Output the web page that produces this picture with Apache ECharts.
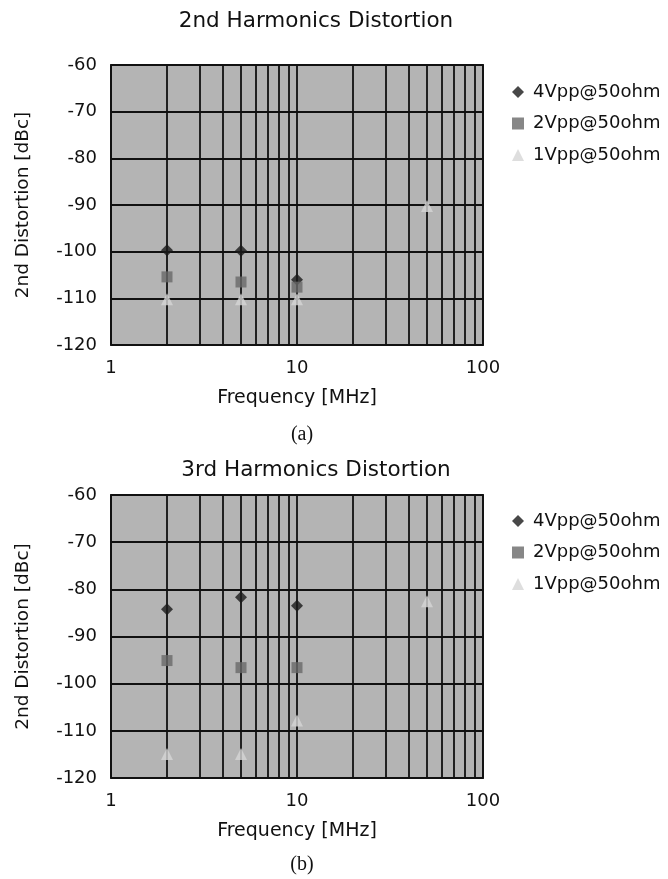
<!DOCTYPE html>
<html>
<head>
<meta charset="utf-8">
<script src="https://cdn.jsdelivr.net/npm/echarts@6/dist/echarts.min.js"></script>
<style>
  html, body { margin: 0; padding: 0; background: #fff; }
  #chart-container { width: 668px; height: 879px; }
</style>
</head>
<body>
<div id="chart-container"></div>
<script>
// Datos
const seriesNames = ['4Vpp@50ohm', '2Vpp@50ohm', '1Vpp@50ohm'];
const freqs = [2, 5, 10, 50];
// 2nd harmonics (a)
const h2_4V = [-99.7, -99.8, -106, null];
const h2_2V = [-105.4, -106.5, -107.6, null];
const h2_1V = [-110.2, -110.2, -110.2, -90.2];
// 3rd harmonics (b)
const h3_4V = [-84.2, -81.7, -83.5, null];
const h3_2V = [-95.1, -96.6, -96.6, null];
const h3_1V = [-114.9, -114.9, -107.8, -82.5];
// líneas de la rejilla logarítmica
const minorFreqs = [2, 3, 4, 5, 6, 7, 8, 9, 20, 30, 40, 50, 60, 70, 80, 90];

const FONT = 'DejaVu Sans';
const symbols = ['diamond', 'rect', 'triangle'];
const colors = ['#1a1a1a', '#696969', '#d6d6d6'];
const sizes = [12, 11, 12];
const LINE_W = 1.8;

function pairs(ys) {
    return freqs.map((f, i) => [f, ys[i]]).filter(p => p[1] !== null);
}

function initChart() {
    const chartDom = document.getElementById('chart-container');
    const myChart = echarts.init(chartDom);

    const grids = [
        { left: 111, width: 372, top: 65, height: 280 },
        { left: 111, width: 372, top: 495, height: 283 }
    ];

    const xAxes = grids.map((g, i) => ({
        type: 'log',
        logBase: 10,
        gridIndex: i,
        min: 1,
        max: 100,
        name: 'Frequency [MHz]',
        nameLocation: 'middle',
        nameGap: 44,
        nameTextStyle: { fontFamily: FONT, fontSize: 19, color: '#111' },
        axisLine: { show: false },
        axisTick: { show: false },
        axisLabel: { fontFamily: FONT, fontSize: 18, color: '#111', margin: 14 },
        splitLine: { show: true, lineStyle: { color: '#111', width: LINE_W } }
    }));

    const yAxes = grids.map((g, i) => ({
        type: 'value',
        gridIndex: i,
        min: -120,
        max: -60,
        interval: 10,
        name: '2nd Distortion [dBc]',
        nameLocation: 'middle',
        nameGap: 78,
        nameTextStyle: { fontFamily: FONT, fontSize: 18.5, color: '#111' },
        axisLine: { show: false },
        axisTick: { show: false },
        axisLabel: { fontFamily: FONT, fontSize: 18, color: '#111', margin: 14 },
        splitLine: { show: true, lineStyle: { color: '#111', width: LINE_W } }
    }));

    const data = [[h2_4V, h2_2V, h2_1V], [h3_4V, h3_2V, h3_1V]];
    const series = [];
    data.forEach((set, gi) => {
        // líneas verticales menores (rejilla log)
        series.push({
            type: 'scatter',
            xAxisIndex: gi,
            yAxisIndex: gi,
            data: [],
            silent: true,
            markLine: {
                silent: true,
                symbol: 'none',
                label: { show: false },
                lineStyle: { color: '#111', width: LINE_W, type: 'solid' },
                data: minorFreqs.map(f => ({ xAxis: f }))
            }
        });
        set.forEach((ys, si) => {
            series.push({
                name: seriesNames[si],
                type: 'scatter',
                xAxisIndex: gi,
                yAxisIndex: gi,
                symbol: symbols[si],
                symbolSize: sizes[si],
                itemStyle: { color: colors[si] },
                data: pairs(ys),
                z: 5
            });
        });
    });

    const titleStyle = { fontFamily: FONT, fontSize: 21.5, fontWeight: 'normal', color: '#111' };
    const capStyle = { fontFamily: 'Liberation Serif', fontSize: 20, fontWeight: 'normal', color: '#111' };
    const legendCommon = {
        orient: 'vertical', left: 507, itemGap: 13.5, itemWidth: 12, itemHeight: 12,
        data: seriesNames,
        textStyle: { fontFamily: FONT, fontSize: 18, color: '#111', padding: [0, 0, 0, 4] }
    };

    const option = {
        animation: false,
        backgroundColor: '#fff',
        title: [
            { text: '2nd Harmonics Distortion', left: 311, top: 5, textAlign: 'center', textStyle: titleStyle },
            { text: '(a)', left: 297, top: 420, textAlign: 'center', textStyle: capStyle },
            { text: '3rd Harmonics Distortion', left: 311, top: 454, textAlign: 'center', textStyle: titleStyle },
            { text: '(b)', left: 297, top: 850, textAlign: 'center', textStyle: capStyle }
        ],
        legend: [
            Object.assign({ top: 78 }, legendCommon),
            Object.assign({ top: 507 }, legendCommon)
        ],
        grid: grids.map(g => Object.assign({
            show: true,
            backgroundColor: '#b4b4b4',
            borderColor: '#111',
            borderWidth: LINE_W
        }, g)),
        xAxis: xAxes,
        yAxis: yAxes,
        series: series
    };

    myChart.setOption(option);
}

initChart();
</script>
</body>
</html>
